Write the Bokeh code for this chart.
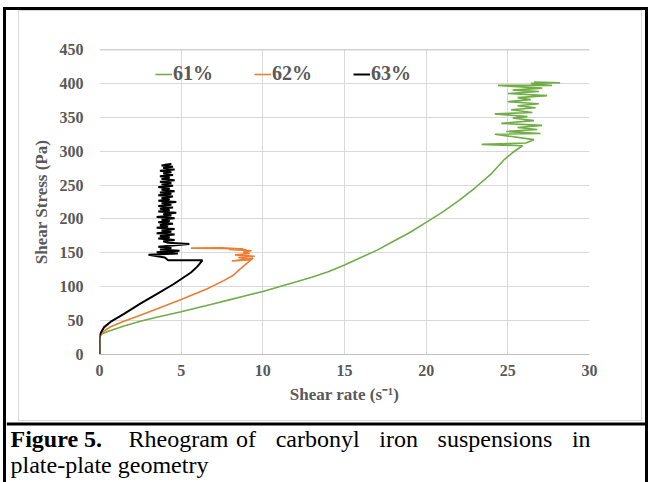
from bokeh.plotting import figure
from bokeh.models import Range1d, Legend, LegendItem, Span, FixedTicker, Div
from bokeh.layouts import column, row
from bokeh.core.properties import value
from bokeh.embed import file_html
from bokeh.resources import INLINE

# ---------------- data ----------------
x_ticks = [0, 5, 10, 15, 20, 25, 30]
y_ticks = [0, 50, 100, 150, 200, 250, 300, 350, 400, 450]

series_names = ["61%", "62%", "63%"]

rate_61 = [0, 0, 0.05, 0.2, 0.5, 1.0, 1.5, 2.5, 3.5, 5.0, 6.0, 7.0, 8.0, 9.0, 10.0, 11.0,
           12.0, 13.0, 14.0, 15.0, 16.0, 17.0, 18.0, 19.0, 20.0, 21.0, 22.0, 23.0, 24.0,
           24.8, 25.3, 25.9,
           23.4, 26.1, 26.6, 24.2, 27.0, 24.9, 26.8, 25.6, 27.1, 24.6, 26.6, 25.3, 26.2,
           24.2, 26.5, 25.2, 26.7, 25.6, 26.9, 25.0, 26.4, 25.6, 27.4, 25.0, 26.9, 25.3,
           27.1, 25.6, 24.4, 27.7, 26.4, 28.2, 26.6]
stress_61 = [0, 25, 28, 31, 34, 38, 42, 49, 55, 63, 69, 75, 81, 87, 93, 100,
             107, 114, 122, 132, 143, 154, 167, 180, 195, 210, 227, 246, 267,
             288, 298, 308,
             310, 312, 317, 325, 326, 329, 332, 335, 338, 341, 345, 349, 351,
             355, 357, 361, 364, 367, 370, 373, 376, 379, 382, 385, 388, 390,
             393, 395, 397, 397, 400, 401, 402]

rate_62 = [0, 0, 0.1, 0.3, 0.68, 1.5, 2.5, 3.5, 5.0, 6.6, 7.6, 8.2, 8.6, 9.0, 9.4,
           8.1, 9.3, 8.5, 9.5, 8.3, 9.2, 8.8, 9.3, 7.9, 8.8, 5.6, 7.5, 8.6, 9.0]
stress_62 = [0, 24, 30, 35, 41, 49, 58, 67, 81, 97, 109, 117, 126, 134, 142,
             138, 140, 143, 145, 147, 149, 151, 153, 155, 156, 157, 157.5, 156, 154]

rate_63 = [0, 0, 0, 0.1, 0.27, 0.67, 1.5, 2.5, 3.5, 4.55, 5.6, 6.0, 6.3,
           4.2, 4.0, 3.0, 4.8, 3.5, 4.9, 3.7, 4.4, 3.6, 5.5, 4.2, 3.9, 4.6, 3.6, 4.3,
           3.7, 4.6, 3.5, 4.4, 3.8, 4.6, 3.5, 4.2, 3.7, 4.5, 3.6, 4.3, 3.8, 4.6, 3.5,
           4.4, 3.9, 4.7, 3.6, 4.3, 3.7, 4.5, 3.6, 4.4, 3.8, 4.7, 3.6, 4.3, 3.8, 4.5,
           3.6, 4.4, 3.7, 4.6, 3.8, 4.3, 3.6, 4.5, 3.8, 4.4, 3.7, 4.6, 3.8, 4.3, 3.7,
           4.5, 3.9, 4.4, 3.7, 4.6, 3.9, 4.5, 3.8, 4.4, 4.0]
stress_63 = [0, 15, 28, 33, 40, 48, 60, 75, 89, 104, 121, 130, 139,
             139, 143, 147, 149, 151, 153, 155, 157, 159, 163, 165, 167, 169, 171, 173,
             175, 177, 179, 181, 183, 185, 187, 189, 191, 193, 195, 197, 199, 201, 203,
             205, 207, 209, 211, 213, 215, 217, 219, 221, 223, 225, 227, 229, 231, 233,
             235, 237, 239, 241, 243, 245, 247, 249, 251, 253, 255, 257, 259, 261, 263,
             265, 267, 269, 271, 273, 275, 277, 279, 281, 280]

caption_bold = "Figure 5."
caption_words = ["Rheogram", "of", "carbonyl", "iron", "suspensions", "in"]
caption_line2 = "plate-plate geometry"

# ---------------- styling ----------------
TXT = "#595959"
SERIF = "Liberation Serif"
GRAYBOX = "#D9D9D9"


def blk(w, h, color):
    return Div(text="", width=w, height=h, margin=0, sizing_mode="fixed",
               styles={"background-color": color})


# ---------------- chart ----------------
CW, CH = 622, 409
p = figure(width=CW, height=CH, output_backend="svg", toolbar_location=None,
           x_range=Range1d(0, 30), y_range=Range1d(0, 450),
           min_border_left=80, min_border_right=52, min_border_top=38, min_border_bottom=66)
p.outline_line_color = None
p.background_fill_color = "white"
p.border_fill_color = "white"

for ax, ticks in ((p.xaxis[0], x_ticks), (p.yaxis[0], y_ticks)):
    ax.ticker = FixedTicker(ticks=ticks)
    ax.major_tick_line_color = None
    ax.minor_tick_line_color = None
    ax.major_tick_out = 0
    ax.major_tick_in = 0
    ax.major_label_text_font = SERIF
    ax.major_label_text_font_style = "bold"
    ax.major_label_text_font_size = "16px"
    ax.major_label_text_color = TXT
    ax.axis_label_text_font = SERIF
    ax.axis_label_text_font_style = "bold"
    ax.axis_label_text_font_size = "17px"
    ax.axis_label_text_color = TXT

p.xaxis.axis_label = "Shear rate (s\u207b\u00b9)"
p.yaxis.axis_label = "Shear Stress (Pa)"
p.xaxis.axis_line_color = "#BFBFBF"
p.yaxis.axis_line_color = None
p.xaxis.major_label_standoff = 10
p.yaxis.major_label_standoff = 16
p.xaxis.axis_label_standoff = 6
p.yaxis.axis_label_standoff = 6

p.xgrid.grid_line_color = "#D9D9D9"
p.ygrid.grid_line_color = "#D9D9D9"
p.add_layout(Span(location=y_ticks[-1], dimension="width", line_color="#A6A6A6", line_width=1.5))

r61 = p.line(rate_61, stress_61, line_color="#70AD47", line_width=1.6)
r62 = p.line(rate_62, stress_62, line_color="#ED7D31", line_width=1.6)
r63 = p.line(rate_63, stress_63, line_color="#000000", line_width=2)

legend = Legend(items=[LegendItem(label=n, renderers=[r]) for n, r in zip(series_names, [r61, r62, r63])],
                location=(56, 269), orientation="horizontal",
                glyph_width=17, glyph_height=20, label_height=20, label_standoff=1,
                spacing=41, padding=0, margin=0,
                border_line_color=None, background_fill_alpha=0,
                label_text_font=SERIF, label_text_font_style="bold",
                label_text_font_size="20px", label_text_color=TXT)
p.add_layout(legend, "center")

# ---------------- caption figure ----------------
BW, BH = 639, 61
cap = figure(width=BW, height=BH, output_backend="svg", toolbar_location=None,
             x_range=Range1d(0, BW), y_range=Range1d(BH, 0),
             x_axis_type=None, y_axis_type=None, min_border=0)
cap.outline_line_color = None
cap.background_fill_color = "white"
cap.border_fill_color = "white"
cap.quad(left=[0], right=[BW], top=[1], bottom=[4], fill_color="black", line_color=None)
cap.text(x=[4], y=[17], text=[caption_bold], text_font=value(SERIF), text_font_style=value("bold"),
         text_font_size=value("24px"), text_color="black", text_baseline=value("alphabetic"))
word_x = [122, 229.6, 269.2, 372.8, 431.1, 565.4]
cap.text(x=word_x, y=[17] * len(caption_words), text=caption_words, text_font=value(SERIF),
         text_font_size=value("24px"), text_color="black", text_baseline=value("alphabetic"))
cap.text(x=[4], y=[43], text=[caption_line2], text_font=value(SERIF),
         text_font_size=value("24px"), text_color="black", text_baseline=value("alphabetic"))

# ---------------- frame pieces (plain coloured blocks) ----------------
W = "white"
K = "black"
G = GRAYBOX
top = column(blk(649, 7, W),
             row(blk(3, 3, W), blk(645, 3, K), blk(1, 3, W)),
             row(blk(3, 1, W), blk(3, 1, K), blk(12, 1, W), blk(624, 1, G),
                 blk(3, 1, W), blk(3, 1, K), blk(1, 1, W)))
middle = row(blk(3, CH, W), blk(3, CH, K), blk(12, CH, W), blk(1, CH, G),
             p,
             blk(1, CH, G), blk(3, CH, W), blk(3, CH, K), blk(1, CH, W))
lower = row(blk(3, 1, W), blk(3, 1, K), blk(12, 1, W), blk(624, 1, G),
            blk(3, 1, W), blk(3, 1, K), blk(1, 1, W))
bottom = row(blk(3, BH, W), blk(3, BH, K), cap, blk(3, BH, K), blk(1, BH, W))

layout = column(top, middle, lower, bottom)

open("out.html", "w").write(file_html(layout, INLINE))
